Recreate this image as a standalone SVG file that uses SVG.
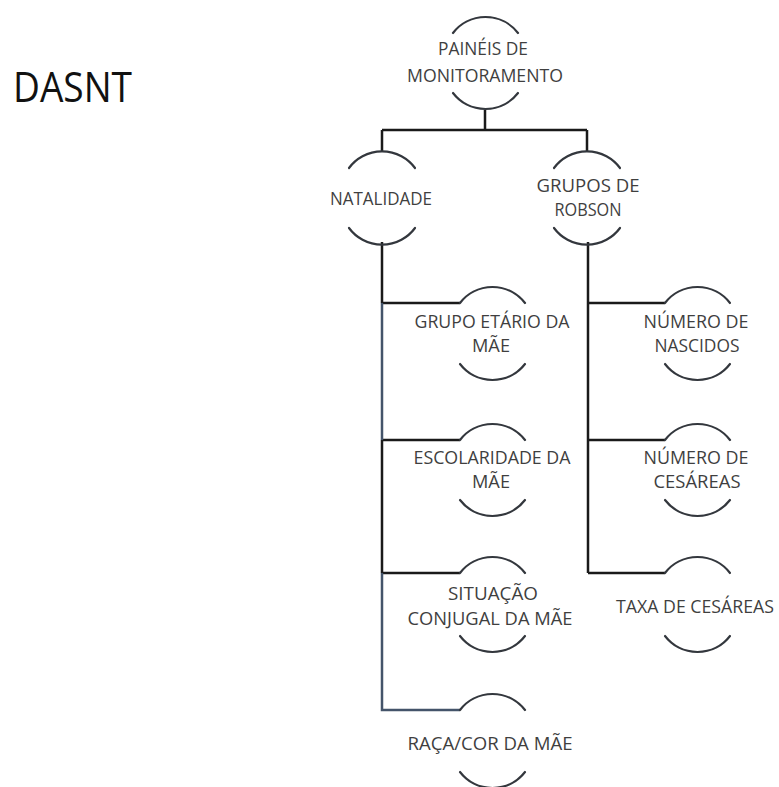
<svg xmlns="http://www.w3.org/2000/svg" width="779" height="787" viewBox="0 0 779 787">
<style>
.arc{fill:none;stroke:#33373d;stroke-width:2.2;stroke-linecap:round}
.ln{fill:none;stroke:#1a1a1a;stroke-width:2.5}
.bl{fill:none;stroke:#44546a;stroke-width:2.5}
.t{font-family:"Open Sans","Liberation Sans",sans-serif;font-size:18px;fill:#3f3f3f;text-anchor:middle}
.title{font-family:"Open Sans","Liberation Sans",sans-serif;font-size:42px;fill:#111}
</style>
<rect width="779" height="787" fill="#ffffff"/>
<text class="title" x="13" y="102" textLength="119" lengthAdjust="spacingAndGlyphs">DASNT</text>
<g id="connectors">
<path class="ln" d="M485 110 V130 M382 130 H587 M382 130 V151 M587 130 V151"/>
<path class="ln" d="M382 242 V303 M382 303 H460 M382 440 V573 M382 440 H460 M382 573 H460"/>
<path class="bl" d="M382 303 V440 M382 573 V710 H460"/>
<path class="ln" d="M588 242 V573 M588 303 H665 M588 440 H665 M588 573 H665"/>
</g>
<g id="n-paineis">
<path class="arc" d="M453 33 A41 41 0 0 1 518 33 M453 93 A41 41 0 0 0 518 93"/>
<text class="t" x="483" y="55" textLength="90" lengthAdjust="spacingAndGlyphs">PAINÉIS DE</text>
<text class="t" x="485" y="82" textLength="156" lengthAdjust="spacingAndGlyphs">MONITORAMENTO</text>
</g>
<g id="n-natalidade">
<path class="arc" d="M349 168 A41 41 0 0 1 415 168 M349 228 A41 41 0 0 0 415 228"/>
<text class="t" x="381" y="205" textLength="102" lengthAdjust="spacingAndGlyphs">NATALIDADE</text>
</g>
<g id="n-robson">
<path class="arc" d="M554 168 A41 41 0 0 1 620 168 M554 228 A41 41 0 0 0 620 228"/>
<text class="t" x="588" y="192" textLength="103" lengthAdjust="spacingAndGlyphs">GRUPOS DE</text>
<text class="t" x="588" y="216" textLength="67" lengthAdjust="spacingAndGlyphs">ROBSON</text>
</g>
<g id="n-etario">
<path class="arc" d="M460 303 A41 41 0 0 1 525 303 M460 364 A41 41 0 0 0 525 364"/>
<text class="t" x="492" y="328" textLength="155" lengthAdjust="spacingAndGlyphs">GRUPO ETÁRIO DA</text>
<text class="t" x="491" y="352" textLength="38" lengthAdjust="spacingAndGlyphs">MÃE</text>
</g>
<g id="n-escolaridade">
<path class="arc" d="M460 440 A41 41 0 0 1 525 440 M460 500 A41 41 0 0 0 525 500"/>
<text class="t" x="492" y="464" textLength="157" lengthAdjust="spacingAndGlyphs">ESCOLARIDADE DA</text>
<text class="t" x="491" y="488" textLength="38" lengthAdjust="spacingAndGlyphs">MÃE</text>
</g>
<g id="n-situacao">
<path class="arc" d="M460 573 A41 41 0 0 1 525 573 M460 636 A41 41 0 0 0 525 636"/>
<text class="t" x="493" y="600" textLength="90" lengthAdjust="spacingAndGlyphs">SITUAÇÃO</text>
<text class="t" x="490" y="625" textLength="165" lengthAdjust="spacingAndGlyphs">CONJUGAL DA MÃE</text>
</g>
<g id="n-raca">
<path class="arc" d="M460 710 A41 41 0 0 1 525 710 M460 772 A41 41 0 0 0 525 772"/>
<text class="t" x="490" y="750" textLength="165" lengthAdjust="spacingAndGlyphs">RAÇA/COR DA MÃE</text>
</g>
<g id="n-nascidos">
<path class="arc" d="M665 303 A41 41 0 0 1 730 303 M665 364 A41 41 0 0 0 730 364"/>
<text class="t" x="696" y="328" textLength="105" lengthAdjust="spacingAndGlyphs">NÚMERO DE</text>
<text class="t" x="697" y="352" textLength="85" lengthAdjust="spacingAndGlyphs">NASCIDOS</text>
</g>
<g id="n-cesareas">
<path class="arc" d="M665 440 A41 41 0 0 1 730 440 M665 500 A41 41 0 0 0 730 500"/>
<text class="t" x="696" y="464" textLength="105" lengthAdjust="spacingAndGlyphs">NÚMERO DE</text>
<text class="t" x="697" y="488" textLength="87" lengthAdjust="spacingAndGlyphs">CESÁREAS</text>
</g>
<g id="n-taxa">
<path class="arc" d="M665 573 A41 41 0 0 1 730 573 M665 636 A41 41 0 0 0 730 636"/>
<text class="t" x="695" y="613" textLength="158" lengthAdjust="spacingAndGlyphs">TAXA DE CESÁREAS</text>
</g>
</svg>
